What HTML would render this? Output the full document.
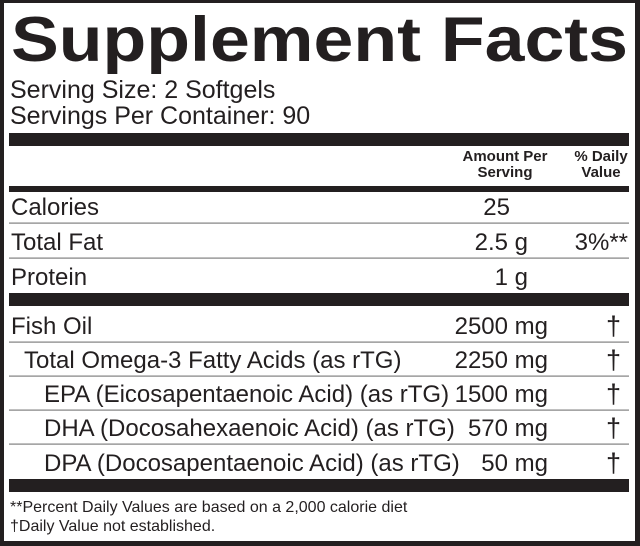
<!DOCTYPE html>
<html>
<head>
<meta charset="utf-8">
<style>
  html, body { margin: 0; padding: 0; background: #fff; }
  svg { display: block; }
  text { font-family: "Liberation Sans", Arial, sans-serif; fill: #231f20; }
  .b { font-weight: bold; }
</style>
</head>
<body>
<svg width="640" height="546" viewBox="0 0 640 546" xmlns="http://www.w3.org/2000/svg">
  <rect x="0" y="0" width="640" height="546" fill="#231f20"/>
  <rect x="4" y="3" width="631" height="538" fill="#ffffff"/>

  <text class="b" x="11" y="61" font-size="63" textLength="617" lengthAdjust="spacingAndGlyphs">Supplement Facts</text>

  <text x="10" y="98" font-size="25">Serving Size: 2 Softgels</text>
  <text x="10" y="124" font-size="25">Servings Per Container: 90</text>

  <rect x="9" y="133" width="620" height="13" fill="#231f20"/>

  <text class="b" x="505" y="161" font-size="15" text-anchor="middle">Amount Per</text>
  <text class="b" x="505" y="177" font-size="15" text-anchor="middle">Serving</text>
  <text class="b" x="601" y="161" font-size="15" text-anchor="middle">% Daily</text>
  <text class="b" x="601" y="177" font-size="15" text-anchor="middle">Value</text>

  <rect x="9" y="186" width="620" height="6" fill="#231f20"/>

  <text x="11" y="215" font-size="24">Calories</text>
  <text x="510" y="215" font-size="24" text-anchor="end">25</text>
  <rect x="9" y="222.5" width="620" height="1.2" fill="#808080"/>

  <text x="11" y="250" font-size="24">Total Fat</text>
  <text x="528" y="250" font-size="24" text-anchor="end">2.5 g</text>
  <text x="628" y="250" font-size="24" text-anchor="end">3%**</text>
  <rect x="9" y="257.5" width="620" height="1.2" fill="#808080"/>

  <text x="11" y="285" font-size="24">Protein</text>
  <text x="528" y="285" font-size="24" text-anchor="end">1 g</text>

  <rect x="9" y="293" width="620" height="13" fill="#231f20"/>

  <text x="11" y="334" font-size="24">Fish Oil</text>
  <text x="548" y="334" font-size="24" text-anchor="end">2500 mg</text>
  <text x="613.5" y="335" font-size="27" text-anchor="middle">†</text>
  <rect x="9" y="341.5" width="620" height="1.2" fill="#808080"/>

  <text x="24" y="368" font-size="24">Total Omega-3 Fatty Acids (as rTG)</text>
  <text x="548" y="368" font-size="24" text-anchor="end">2250 mg</text>
  <text x="613.5" y="369" font-size="27" text-anchor="middle">†</text>
  <rect x="9" y="375.5" width="620" height="1.2" fill="#808080"/>

  <text x="44" y="402" font-size="24">EPA (Eicosapentaenoic Acid) (as rTG)</text>
  <text x="548" y="402" font-size="24" text-anchor="end">1500 mg</text>
  <text x="613.5" y="403" font-size="27" text-anchor="middle">†</text>
  <rect x="9" y="409.5" width="620" height="1.2" fill="#808080"/>

  <text x="44" y="436" font-size="24">DHA (Docosahexaenoic Acid) (as rTG)</text>
  <text x="548" y="436" font-size="24" text-anchor="end">570 mg</text>
  <text x="613.5" y="437" font-size="27" text-anchor="middle">†</text>
  <rect x="9" y="443.5" width="620" height="1.2" fill="#808080"/>

  <text x="44" y="471" font-size="24">DPA (Docosapentaenoic Acid) (as rTG)</text>
  <text x="548" y="471" font-size="24" text-anchor="end">50 mg</text>
  <text x="613.5" y="472" font-size="27" text-anchor="middle">†</text>

  <rect x="9" y="479" width="620" height="13" fill="#231f20"/>

  <text x="10" y="512" font-size="16">**Percent Daily Values are based on a 2,000 calorie diet</text>
  <text x="10" y="531" font-size="16">†Daily Value not established.</text>
</svg>
</body>
</html>
